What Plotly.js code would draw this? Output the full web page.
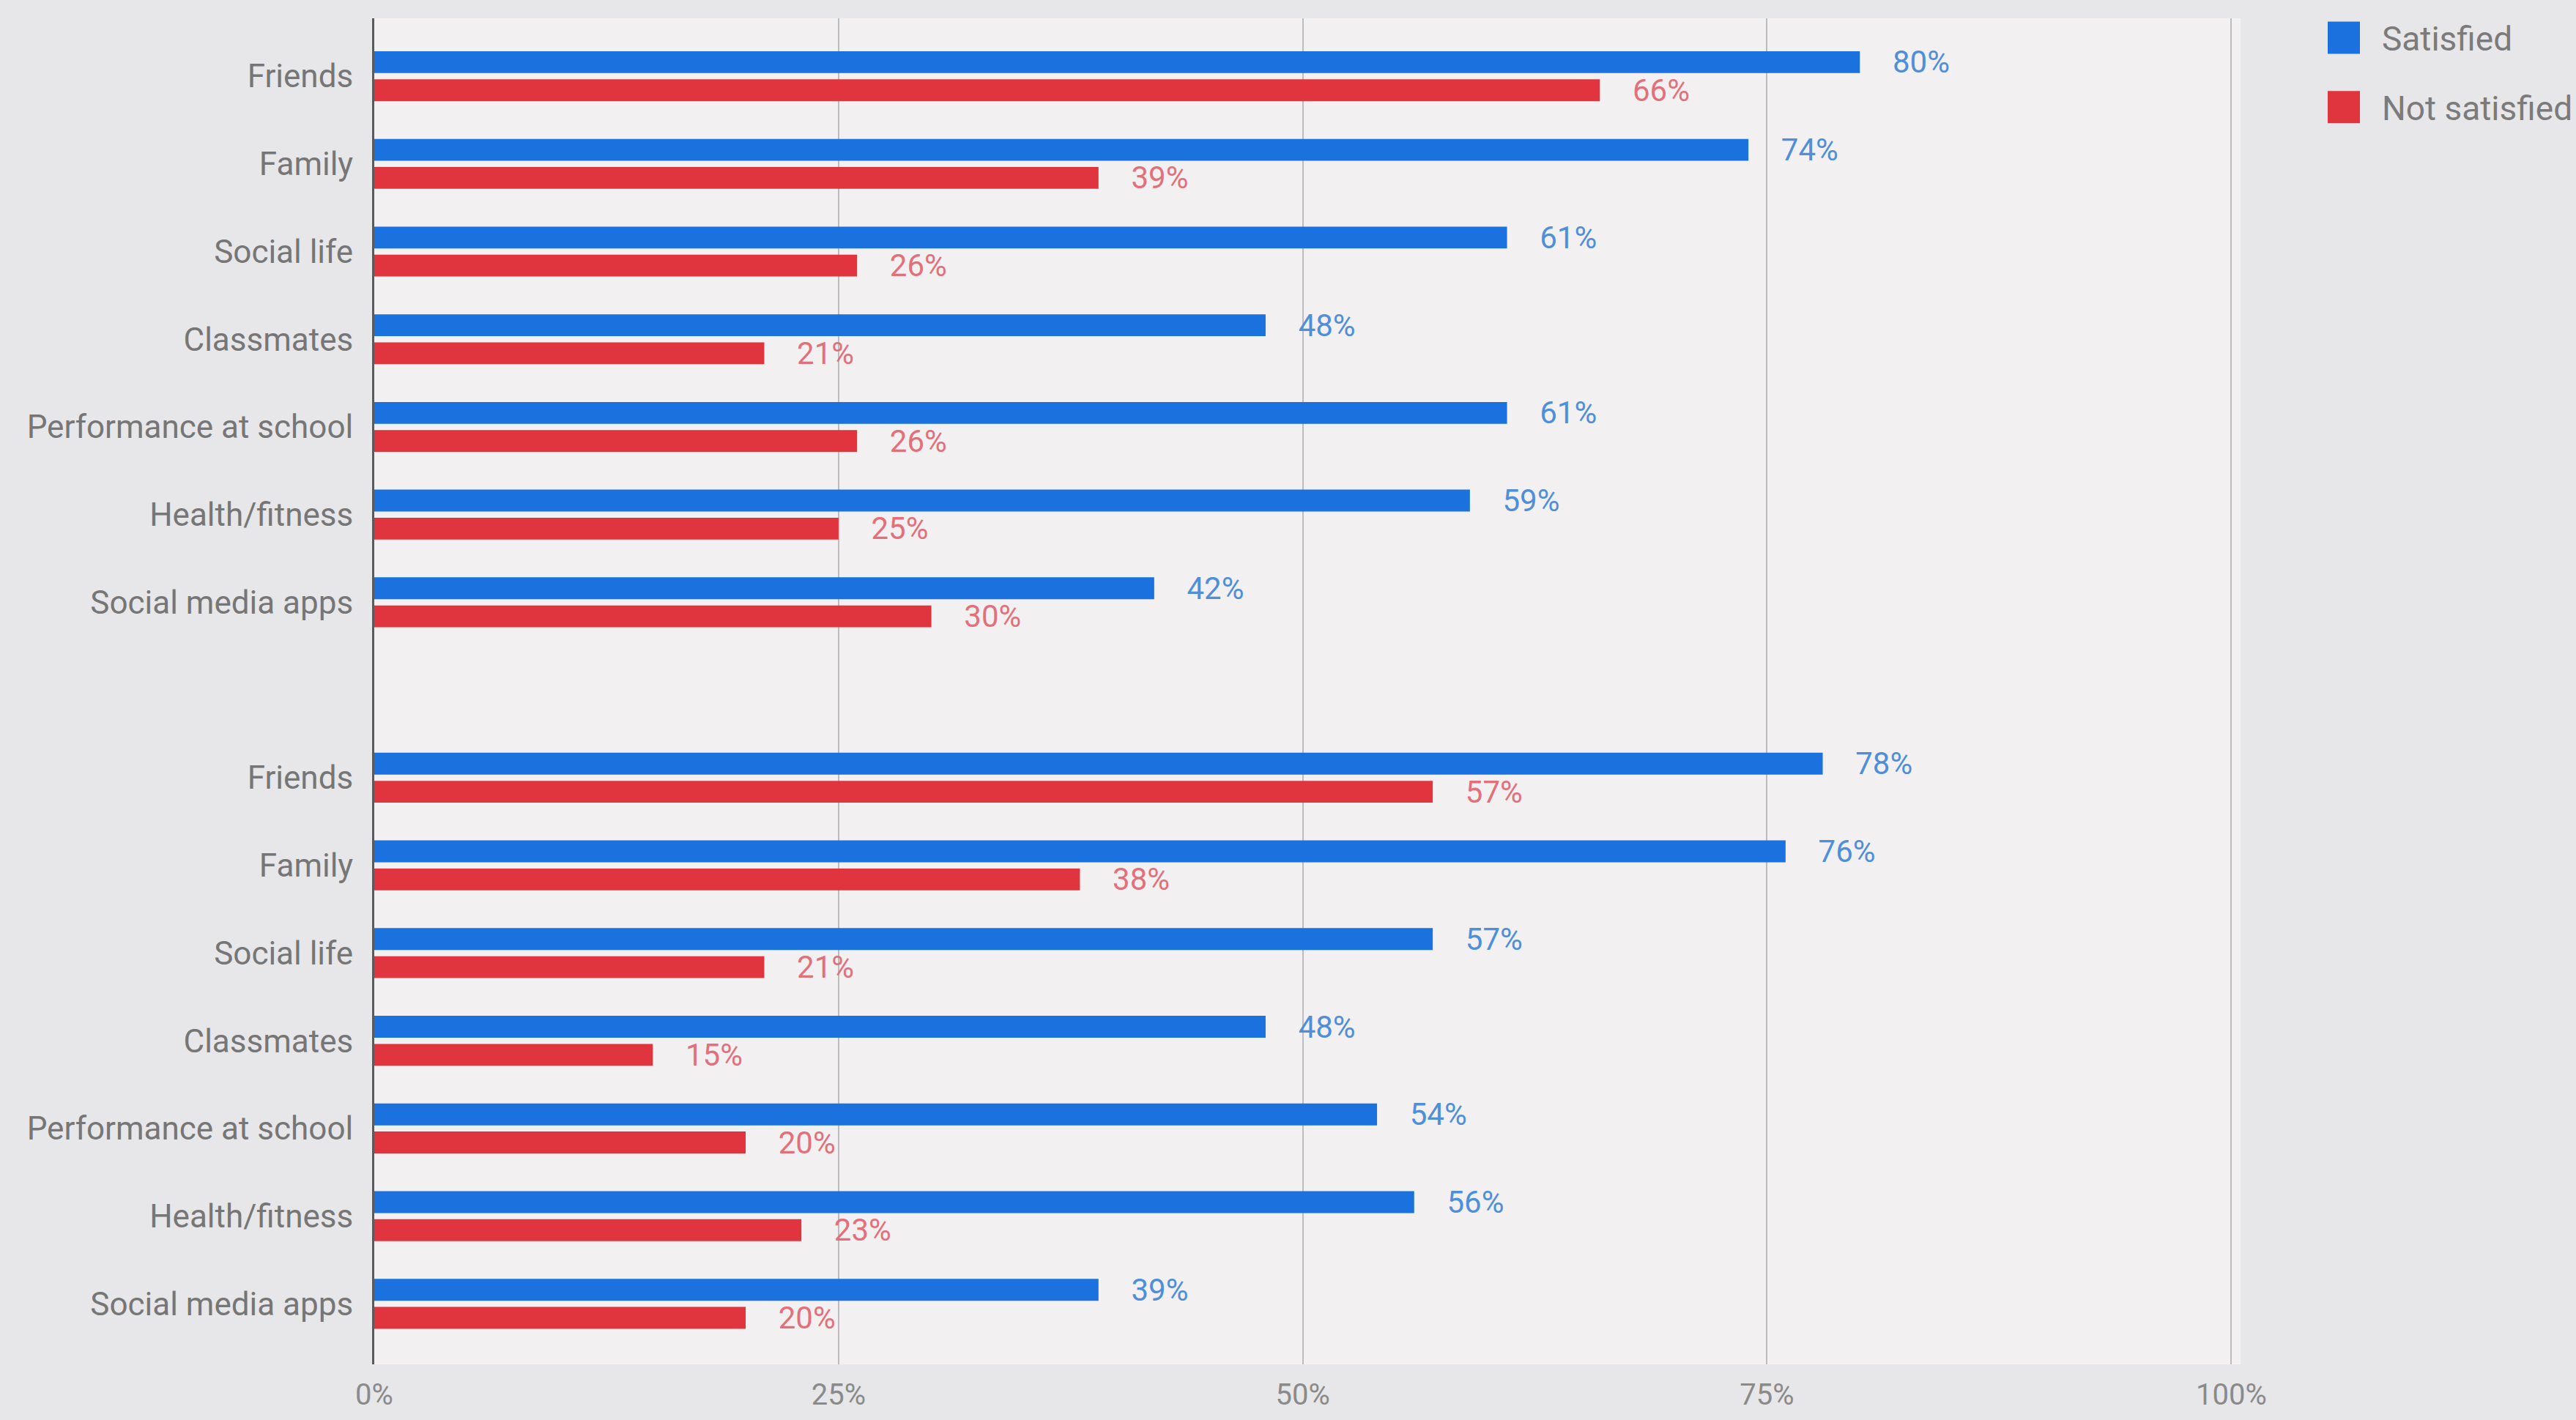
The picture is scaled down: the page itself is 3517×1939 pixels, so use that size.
<!DOCTYPE html>
<html>
<head>
<meta charset="utf-8">
<script src="https://cdn.plot.ly/plotly-3.0.1.min.js"></script>
<style>html,body{margin:0;padding:0;background:#e7e6e9;}#chart{width:3517px;height:1939px;}</style>
</head>
<body>
<div id="chart"></div>
<script>
// ---- data ----
const categories = ["Friends", "Family", "Social life", "Classmates", "Performance at school", "Health/fitness", "Social media apps"];
const groupIds = ["A", "B"];
const satisfiedA = [80, 74, 61, 48, 61, 59, 42];
const notSatisfiedA = [66, 39, 26, 21, 26, 25, 30];
const satisfiedB = [78, 76, 57, 48, 54, 56, 39];
const notSatisfiedB = [57, 38, 21, 15, 20, 23, 20];
const xTickVals = [0, 25, 50, 75, 100];
const xTickText = ["0%", "25%", "50%", "75%", "100%"];
const seriesNames = ["Satisfied", "Not satisfied"];

// ---- build category ids (two groups separated by a blank row) ----
const idsA = categories.map(c => groupIds[0] + "|" + c);
const idsB = categories.map(c => groupIds[1] + "|" + c);
const spacer = "gap";
const catOrder = idsA.concat([spacer], idsB);
const catText = categories.concat([""], categories);

const FONT = "Roboto, 'Open Sans', sans-serif";
const BLUE = "#1b72de";
const RED = "#e0353f";
const pad = "\u00a0\u00a0\u00a0\u00a0";

const traces = [
  {
    type: "bar", orientation: "h", name: seriesNames[0],
    y: idsA.concat(idsB), x: satisfiedA.concat(satisfiedB),
    marker: {color: BLUE},
    texttemplate: pad + "%{x:.0f}%", textposition: "outside", constraintext: "none", cliponaxis: false,
    textfont: {family: FONT, size: 42, color: "#4f8fd9"},
    legendgroup: "s", hoverinfo: "x+name"
  },
  {
    type: "bar", orientation: "h", name: seriesNames[1],
    y: idsA.concat(idsB), x: notSatisfiedA.concat(notSatisfiedB),
    marker: {color: RED},
    texttemplate: pad + "%{x:.0f}%", textposition: "outside", constraintext: "none", cliponaxis: false,
    textfont: {family: FONT, size: 42, color: "#e2707b"},
    legendgroup: "n", hoverinfo: "x+name"
  }
];

const layout = {
  width: 3517, height: 1939,
  paper_bgcolor: "#e7e6e9",
  plot_bgcolor: "#f2f0f0",
  font: {family: FONT, color: "#7a7a7a"},
  margin: {l: 511, r: 458, t: 25, b: 76, pad: 0},
  barmode: "group",
  bargap: 0.36,
  bargroupgap: 0.22,
  showlegend: true,
  legend: {
    xref: "container", yref: "container",
    x: 3148 / 3517, xanchor: "left",
    y: 1 - 15 / 1939, yanchor: "top",
    bgcolor: "rgba(0,0,0,0)", borderwidth: 0,
    font: {family: FONT, size: 46, color: "#7b7b7b"},
    itemwidth: 94, tracegroupgap: 32,
    traceorder: "grouped"
  },
  xaxis: {
    range: [0, 100.5],
    tickvals: xTickVals, ticktext: xTickText,
    showgrid: true, gridcolor: "#bcbbbd", gridwidth: 2,
    zeroline: false, showline: false, ticks: "",
    tickfont: {family: FONT, size: 40, color: "#8a8a8a"},
    ticklabelstandoff: 14,
    automargin: false, fixedrange: true
  },
  yaxis: {
    type: "category",
    categoryorder: "array", categoryarray: catOrder,
    tickvals: catOrder, ticktext: catText,
    range: [14.69, -0.66],
    showgrid: false, zeroline: false,
    showline: true, linecolor: "#5a5a5a", linewidth: 3,
    ticks: "", ticklabelstandoff: 17,
    tickfont: {family: FONT, size: 44, color: "#767676"},
    automargin: false, fixedrange: true
  }
};

Plotly.newPlot("chart", traces, layout, {displayModeBar: false, staticPlot: true}).then(function () {
  document.querySelectorAll(".legend .legendpoints path").forEach(function (p) {
    p.setAttribute("d", "M22,22H-22V-22H22Z");
  });
});
</script>
</body>
</html>
